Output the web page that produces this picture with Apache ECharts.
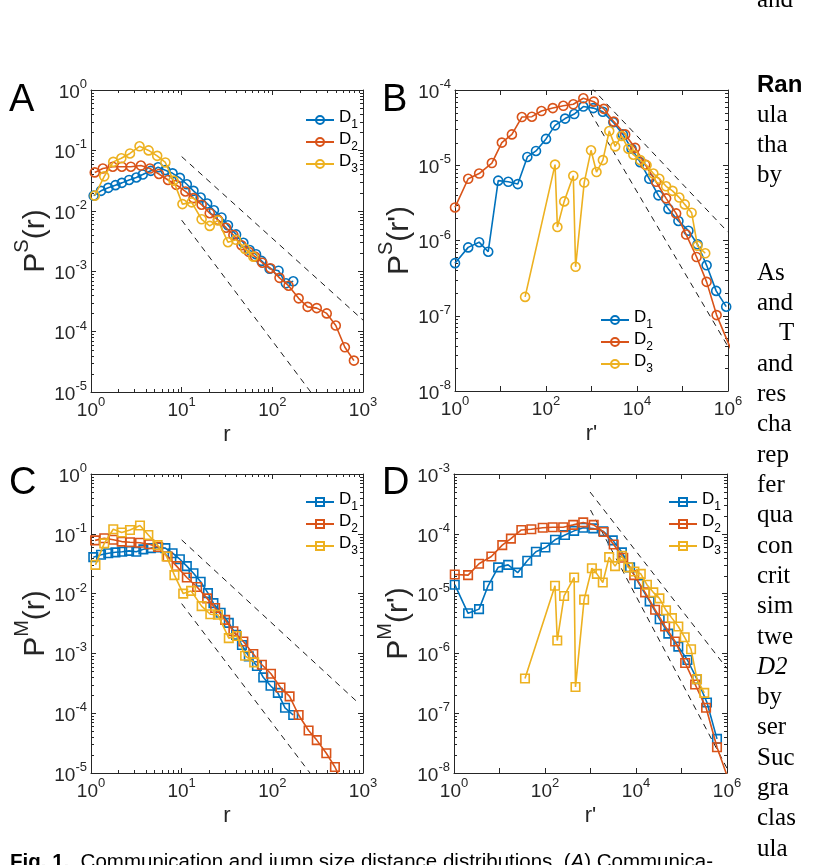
<!DOCTYPE html>
<html><head><meta charset="utf-8">
<script src="https://cdn.jsdelivr.net/npm/echarts/dist/echarts.min.js"></script>
<style>html,body{margin:0;padding:0;background:#fff;overflow:hidden}#c{width:817px;height:865px}</style>
</head><body><div id="c"></div>
<script>
// ---------- data ----------
const A_D1 = [[1.07,1.78e-2],[1.29,2.14e-2],[1.55,2.40e-2],[1.86,2.66e-2],[2.19,2.90e-2],[2.63,3.24e-2],[3.16,3.56e-2],[3.72,3.98e-2],[4.57,4.59e-2],[5.50,5.25e-2],[6.61,4.71e-2],[7.94,4.17e-2],[9.55,3.51e-2],[11.4,2.75e-2],[13.5,2.14e-2],[16.2,1.66e-2],[19.1,1.32e-2],[22.7,1.02e-2],[27.5,7.76e-3],[32.4,5.75e-3],[39.8,4.07e-3],[47.9,2.95e-3],[56.2,2.24e-3],[66.1,1.91e-3],[75.9,1.48e-3],[93.3,1.10e-3],[117,1.02e-3],[141,6.3e-4],[170,6.8e-4]];
const A_D2 = [[1.10,4.32e-2],[1.35,5.01e-2],[1.74,5.37e-2],[2.19,5.37e-2],[2.75,5.37e-2],[3.55,5.62e-2],[4.47,5.01e-2],[5.62,4.07e-2],[7.08,3.24e-2],[8.71,2.69e-2],[11.0,2.09e-2],[13.5,1.62e-2],[16.6,1.26e-2],[20.4,9.12e-3],[25.1,7.08e-3],[30.9,5.25e-3],[37.2,3.98e-3],[45.7,2.69e-3],[55.0,2.09e-3],[64.6,1.74e-3],[77.6,1.38e-3],[95.5,1.12e-3],[120,7.76e-4],[151,5.75e-4],[195,3.55e-4],[245,2.57e-4],[309,2.45e-4],[398,2.0e-4],[501,1.26e-4],[631,5.5e-5],[794,3.31e-5]];
const A_D3 = [[1.10,1.78e-2],[1.40,3.72e-2],[1.76,6.46e-2],[2.16,7.41e-2],[2.69,8.91e-2],[3.43,0.117],[4.32,0.100],[5.37,8.13e-2],[6.61,6.31e-2],[8.13,3.16e-2],[10.2,1.29e-2],[12.9,1.38e-2],[16.6,7.24e-3],[20.4,5.62e-3],[25.1,6.92e-3],[32.4,3.02e-3],[39.8,3.31e-3],[50.1,2.34e-3],[61.7,1.74e-3]];
const A_guideUpper = [[10,7.9e-2],[1000,1.55e-4]];
const A_guideLower = [[10,7.0e-3],[265,1e-5]];

const B_D1 = [[1,5.0e-7],[1.95,8.1e-7],[3.39,9.5e-7],[5.37,7.1e-7],[8.91,6.24e-6],[14.8,6.03e-6],[24.0,5.62e-6],[38.9,1.29e-5],[60.3,1.55e-5],[100,2.24e-5],[158,3.39e-5],[263,4.17e-5],[417,4.79e-5],[661,6.03e-5],[1096,5.75e-5],[1778,5.13e-5],[3020,3.72e-5],[4898,2.57e-5],[7586,1.66e-5],[11750,1.10e-5],[18620,6.61e-6],[29510,3.98e-6],[48980,2.63e-6],[81280,1.82e-6],[134900,1.35e-6],[213800,8.91e-7],[338800,4.68e-7],[549500,2.14e-7],[912000,1.32e-7]];
const B_D2 = [[1,2.75e-6],[1.95,6.61e-6],[3.39,7.76e-6],[6.46,1.07e-5],[10.7,2.0e-5],[17.8,2.57e-5],[29.5,4.37e-5],[49.0,4.42e-5],[79.4,5.25e-5],[141,5.75e-5],[240,6.17e-5],[398,6.46e-5],[661,7.76e-5],[1122,7.0e-5],[1862,5.62e-5],[3090,3.80e-5],[5495,2.57e-5],[9120,1.70e-5],[15140,1.02e-5],[26300,6.03e-6],[43650,3.63e-6],[72440,2.29e-6],[120200,1.20e-6],[204200,6.03e-7],[338800,2.82e-7],[562300,1.02e-7],[1200000,3.4e-8]];
const B_D3 = [[34.7,1.78e-7],[158,1.02e-5],[178,1.51e-6],[251,3.31e-6],[398,7.24e-6],[447,4.47e-7],[692,5.89e-6],[977,1.58e-5],[1288,8.13e-6],[1778,1.17e-5],[2455,2.85e-5],[3311,1.78e-5],[4571,2.45e-5],[6457,1.66e-5],[8318,1.38e-5],[11750,1.17e-5],[16220,1.0e-5],[22910,7.76e-6],[30900,6.61e-6],[43650,5.25e-6],[60260,4.57e-6],[85110,3.72e-6],[112200,3.02e-6],[158500,2.34e-6],[213800,8.5e-7],[316200,6.76e-7]];
const B_guideUpper = [[1000,1.07e-4],[1e6,1.29e-6]];
const B_guideLower = [[933,5.1e-5],[1e6,3.9e-8]];

const C_D1 = [[1.06,4.07e-2],[1.29,4.47e-2],[1.55,4.73e-2],[1.86,4.90e-2],[2.21,5.01e-2],[2.63,5.19e-2],[3.16,5.01e-2],[3.78,5.50e-2],[4.57,5.75e-2],[5.50,5.89e-2],[6.61,5.75e-2],[7.94,4.73e-2],[9.55,3.76e-2],[11.4,2.88e-2],[13.5,2.19e-2],[16.2,1.58e-2],[19.5,1.02e-2],[22.4,6.92e-3],[26.9,4.79e-3],[33.1,3.24e-3],[39.8,2.04e-3],[46.2,1.38e-3],[55.0,8.91e-4],[67.6,6.17e-4],[79.4,3.98e-4],[95.5,2.88e-4],[115,2.19e-4],[138,1.23e-4],[170,9.33e-5]];
const C_D2 = [[1.11,7.76e-2],[1.40,8.41e-2],[1.76,7.94e-2],[2.18,7.41e-2],[2.69,7.24e-2],[3.47,7.08e-2],[4.40,6.68e-2],[5.50,6.03e-2],[7.0,4.17e-2],[8.79,2.88e-2],[11.4,1.86e-2],[14.8,1.29e-2],[19.1,8.32e-3],[23.4,5.75e-3],[30.2,3.63e-3],[37.2,2.34e-3],[47.9,1.58e-3],[61.7,9.77e-4],[76.7,6.46e-4],[96.6,4.57e-4],[123,2.69e-4],[155,1.91e-4],[195,9.33e-5],[251,5.13e-5],[309,3.55e-5],[394,2.14e-5],[490,1.26e-5],[631,5.6e-6]];
const C_D3 = [[1.12,3.02e-2],[1.40,6.92e-2],[1.76,0.119],[2.18,0.105],[2.69,0.116],[3.47,0.138],[4.29,9.55e-2],[5.43,6.46e-2],[6.82,4.17e-2],[8.32,2.04e-2],[10.4,1.0e-2],[12.7,1.11e-2],[16.6,6.17e-3],[20.7,4.52e-3],[25.1,4.42e-3],[33.1,1.80e-3],[40.7,1.95e-3],[50.1,9.12e-4],[63.1,7.08e-4]];
const C_guideUpper = [[10,7.9e-2],[891,1.48e-4]];
const C_guideLower = [[10,6.8e-3],[260,1e-5]];

const D_D1 = [[1.04,1.41e-5],[2.04,4.68e-6],[3.55,5.50e-6],[5.62,1.35e-5],[9.33,2.75e-5],[15.5,3.02e-5],[25.1,2.24e-5],[40.7,3.55e-5],[63.1,5.01e-5],[102,5.89e-5],[166,7.94e-5],[275,9.55e-5],[437,1.12e-4],[692,1.26e-4],[1148,1.23e-4],[1905,1.10e-4],[3090,7.76e-5],[4898,4.90e-5],[7413,2.75e-5],[11750,1.45e-5],[19950,7.41e-6],[33110,3.72e-6],[51290,2.14e-6],[85110,1.30e-6],[134900,7.76e-7],[218800,3.72e-7],[363100,1.51e-7],[602600,3.72e-8]];
const D_D2 = [[1.04,2.09e-5],[2.04,2.04e-5],[3.55,3.16e-5],[6.61,4.17e-5],[11.5,6.46e-5],[17.8,8.32e-5],[30.2,1.16e-4],[50.1,1.19e-4],[89.1,1.26e-4],[148,1.29e-4],[251,1.29e-4],[417,1.41e-4],[692,1.55e-4],[1175,1.41e-4],[1950,1.07e-4],[3236,6.61e-5],[5248,3.98e-5],[9120,2.04e-5],[15850,1.05e-5],[26300,5.37e-6],[43650,2.82e-6],[72440,1.58e-6],[120200,6.92e-7],[199500,3.02e-7],[346700,1.23e-7],[602600,2.69e-8],[1120000,7.1e-9]];
const D_D3 = [[36.3,3.80e-7],[166,1.35e-5],[186,1.64e-6],[263,9.12e-6],[437,1.86e-5],[468,2.75e-7],[724,7.94e-6],[1072,2.66e-5],[1380,2.14e-5],[1862,1.53e-5],[2570,4.07e-5],[3467,2.88e-5],[4898,4.27e-5],[6761,2.75e-5],[9226,2.34e-5],[12740,2.14e-5],[17380,1.41e-5],[23990,1.05e-5],[32730,8.32e-6],[45710,5.25e-6],[61660,3.89e-6],[85110,2.82e-6],[117500,1.86e-6],[162200,1.17e-6],[218800,3.72e-7],[316200,2.19e-7]];
const D_guideUpper = [[977,5.0e-4],[1e6,5.6e-7]];
const D_guideLower = [[1000,2.5e-4],[1e6,1.2e-8]];

// axis ranges and tick label exponents
const A_xRange = [1, 1e3],  A_yRange = [1e-5, 1];
const B_xRange = [1, 1e6],  B_yRange = [1e-8, 1e-4];
const C_xRange = [1, 1e3],  C_yRange = [1e-5, 1];
const D_xRange = [1, 1e6],  D_yRange = [1e-8, 1e-3];
const xLabelExpsAC = [0, 1, 2, 3];
const xLabelExpsBD = [0, 2, 4, 6];
const panelLetters = ['A', 'B', 'C', 'D'];

// ---------- styling ----------
const FONT = '"Liberation Sans", Arial, Helvetica, sans-serif';
const SERIF = '"Liberation Serif", "Times New Roman", serif';
const AX = '#262626';
const COLORS = ['#0072BD', '#D95319', '#EDB120'];

const grids = [
  {left: 91, top: 90, width: 272, height: 302},
  {left: 455, top: 90, width: 273, height: 301},
  {left: 91, top: 474, width: 272, height: 299},
  {left: 454, top: 474, width: 273, height: 299}
];

const tickRich = {
  b: {fontFamily: FONT, fontSize: 19, color: AX, lineHeight: 24, verticalAlign: 'bottom'},
  e: {fontFamily: FONT, fontSize: 13, color: AX, lineHeight: 10, verticalAlign: 'top'}
};
function labelFmt(exps) {
  return function (v) {
    const e = Math.round(Math.log10(v));
    if (exps.indexOf(e) < 0) return '';
    return '{b|10}{e|' + e + '}';
  };
}
const nameRich = {
  p: {fontFamily: FONT, fontSize: 30, color: AX, lineHeight: 38, verticalAlign: 'bottom'},
  s: {fontFamily: FONT, fontSize: 20, color: AX, lineHeight: 17, verticalAlign: 'top'}
};

function xAxes(gi, range, exps, name) {
  const base = {
    type: 'log', logBase: 10, gridIndex: gi, min: range[0], max: range[1],
    axisLine: {show: true, onZero: false, lineStyle: {color: AX, width: 1}},
    axisTick: {show: true, inside: true, length: 5, lineStyle: {color: AX, width: 1}},
    splitLine: {show: false}, minorTick: {show: false}
  };
  return [
    Object.assign({}, base, {position: 'bottom',
      axisLabel: {formatter: labelFmt(exps), rich: tickRich, margin: 4, showMinLabel: true, showMaxLabel: true},
      name: name, nameLocation: 'middle', nameGap: 32,
      nameTextStyle: {fontFamily: FONT, fontSize: 22, color: AX, lineHeight: 22}}),
    Object.assign({}, base, {position: 'top', axisLabel: {show: false}})
  ];
}
function yAxes(gi, range, nameRichStr, gap) {
  const base = {
    type: 'log', logBase: 10, gridIndex: gi, min: range[0], max: range[1],
    axisLine: {show: true, onZero: false, lineStyle: {color: AX, width: 1}},
    axisTick: {show: true, inside: true, length: 5, lineStyle: {color: AX, width: 1}},
    splitLine: {show: false}, minorTick: {show: false}
  };
  const allExps = [];
  for (let e = Math.round(Math.log10(range[0])); e <= Math.round(Math.log10(range[1])); e++) allExps.push(e);
  return [
    Object.assign({}, base, {position: 'left',
      axisLabel: {formatter: labelFmt(allExps), rich: tickRich, margin: 4, showMinLabel: true, showMaxLabel: true},
      name: nameRichStr, nameLocation: 'middle', nameGap: gap, nameRotate: 90,
      nameTextStyle: {rich: nameRich}}),
    Object.assign({}, base, {position: 'right', axisLabel: {show: false}})
  ];
}

// minor (2..9) tick marks drawn with the axes' own scales
function minorTicks(gi, xr, yr, withX) {
  const data = [];
  const ylo = Math.round(Math.log10(yr[0])), yhi = Math.round(Math.log10(yr[1]));
  for (let d = ylo; d < yhi; d++) for (let k = 2; k <= 9; k++) data.push([xr[0], k * Math.pow(10, d), 0]);
  if (withX) {
    const xlo = Math.round(Math.log10(xr[0])), xhi = Math.round(Math.log10(xr[1]));
    for (let d = xlo; d < xhi; d++) for (let k = 2; k <= 9; k++) data.push([k * Math.pow(10, d), yr[0], 1]);
  }
  return {
    type: 'custom', xAxisIndex: gi, yAxisIndex: gi, silent: true, clip: false, z: 1,
    data: data, animation: false,
    renderItem: function (params, api) {
      const cs = params.coordSys, L = 3;
      const p = api.coord([api.value(0), api.value(1)]);
      let segs;
      if (api.value(2) === 0) {
        const y = Math.round(p[1]) + 0.5;
        segs = [[cs.x, y, cs.x + L, y], [cs.x + cs.width - L, y, cs.x + cs.width, y]];
      } else {
        const x = Math.round(p[0]) + 0.5;
        segs = [[x, cs.y + cs.height, x, cs.y + cs.height - L], [x, cs.y, x, cs.y + L]];
      }
      return {type: 'group', children: segs.map(s => ({
        type: 'line', shape: {x1: s[0], y1: s[1], x2: s[2], y2: s[3]},
        style: {stroke: AX, lineWidth: 1}}))};
    }
  };
}

function dataSeries(gi, prefix, arrs, symbol, size) {
  return arrs.map((d, i) => ({
    type: 'line', name: prefix + (i + 1), xAxisIndex: gi, yAxisIndex: gi, data: d,
    symbol: symbol, symbolSize: size, showAllSymbol: true, clip: true, z: 3 + i,
    lineStyle: {color: COLORS[i], width: 1.6},
    itemStyle: {color: 'rgba(255,255,255,0)', borderColor: COLORS[i], borderWidth: 1.6},
    emphasis: {disabled: true}
  }));
}
function guideSeries(gi, d) {
  return {type: 'line', xAxisIndex: gi, yAxisIndex: gi, data: d, symbol: 'none', clip: true, silent: true, z: 2,
    lineStyle: {color: '#000', width: 0.9, type: [6, 5]}};
}

const legRich = {
  d: {fontFamily: FONT, fontSize: 17, color: '#000', lineHeight: 22, verticalAlign: 'top'},
  s: {fontFamily: FONT, fontSize: 12, color: '#000', lineHeight: 10, verticalAlign: 'bottom'}
};
function legendCfg(prefix, left, top) {
  return {
    data: [prefix + '1', prefix + '2', prefix + '3'], orient: 'vertical', left: left, top: top,
    itemWidth: 28, itemHeight: 10, itemGap: 0, padding: 0, selectedMode: false,
    formatter: n => '{d|D}{s|' + n.slice(1) + '}',
    textStyle: {rich: legRich}
  };
}

const xAxis = [].concat(
  xAxes(0, A_xRange, xLabelExpsAC, 'r'), xAxes(1, B_xRange, xLabelExpsBD, "r'"),
  xAxes(2, C_xRange, xLabelExpsAC, 'r'), xAxes(3, D_xRange, xLabelExpsBD, "r'"));
const yAxis = [].concat(
  yAxes(0, A_yRange, '{p|P}{s|S}{p|(r)}', 37), yAxes(1, B_yRange, "{p|P}{s|S}{p|(r')}", 33),
  yAxes(2, C_yRange, '{p|P}{s|M}{p|(r)}', 37), yAxes(3, D_yRange, "{p|P}{s|M}{p|(r')}", 33));
function reorder(list) { const p = [], m = []; list.forEach((a, i) => (i % 2 ? m : p).push(a)); return p.concat(m); }

const series = [].concat(
  guideSeries(0, A_guideUpper), guideSeries(0, A_guideLower),
  guideSeries(1, B_guideUpper), guideSeries(1, B_guideLower),
  guideSeries(2, C_guideUpper), guideSeries(2, C_guideLower),
  guideSeries(3, D_guideUpper), guideSeries(3, D_guideLower),
  dataSeries(0, 'a', [A_D1, A_D2, A_D3], 'circle', 9),
  dataSeries(1, 'b', [B_D1, B_D2, B_D3], 'circle', 9),
  dataSeries(2, 'c', [C_D1, C_D2, C_D3], 'rect', 8.5),
  dataSeries(3, 'd', [D_D1, D_D2, D_D3], 'rect', 8.5),
  minorTicks(0, A_xRange, A_yRange, true), minorTicks(1, B_xRange, B_yRange, false),
  minorTicks(2, C_xRange, C_yRange, true), minorTicks(3, D_xRange, D_yRange, false)
);

// page text around the figure (text, y centre, bold heading, indent, italic)
const rightColumn = [
  ['and', 0], ['Ran', 85, true], ['ula', 115], ['tha', 145], ['by', 175],
  ['As', 273], ['and', 303], ['T', 333, false, 22], ['and', 364], ['res', 394],
  ['cha', 424], ['rep', 455], ['fer', 485], ['qua', 515], ['con', 546],
  ['crit', 576], ['sim', 606], ['twe', 637], ['D2', 667, false, 0, true], ['by', 697],
  ['ser', 727], ['Suc', 758], ['gra', 788], ['clas', 818], ['ula', 849]
];
const graphics = [];
const letterPos = [[9, 120], [382, 120], [9, 503], [382, 503]];
panelLetters.forEach((t, i) => graphics.push({type: 'text', x: letterPos[i][0], y: letterPos[i][1],
  style: {text: t, font: '38px ' + FONT, fill: '#000', verticalAlign: 'bottom'}}));
rightColumn.forEach(r => graphics.push({type: 'text', x: 757 + (r[3] || 0), y: r[1],
  style: {text: r[0], fill: '#000', verticalAlign: 'middle',
    font: (r[2] ? 'bold 24px ' + FONT : (r[4] ? 'italic ' : '') + '25px ' + SERIF)}}));
graphics.push({type: 'text', x: 10, y: 873, style: {
  text: '{b|Fig. 1.}{n|  Communication and jump size distance distributions. (}{i|A}{n|) Communica-}',
  verticalAlign: 'bottom',
  rich: {b: {font: 'bold 20.5px ' + FONT, fill: '#000'}, n: {font: '20.5px ' + FONT, fill: '#000'},
         i: {font: 'italic 20.5px ' + FONT, fill: '#000'}}}});

const chart = echarts.init(document.getElementById('c'), null, {renderer: 'canvas'});
chart.setOption({
  animation: false,
  backgroundColor: '#fff',
  grid: grids,
  xAxis: reorder(xAxis),
  yAxis: reorder(yAxis),
  legend: [legendCfg('a', 305, 109), legendCfg('b', 600, 309), legendCfg('c', 305, 491), legendCfg('d', 668, 491)],
  series: series,
  graphic: graphics
});
</script>
</body></html>
